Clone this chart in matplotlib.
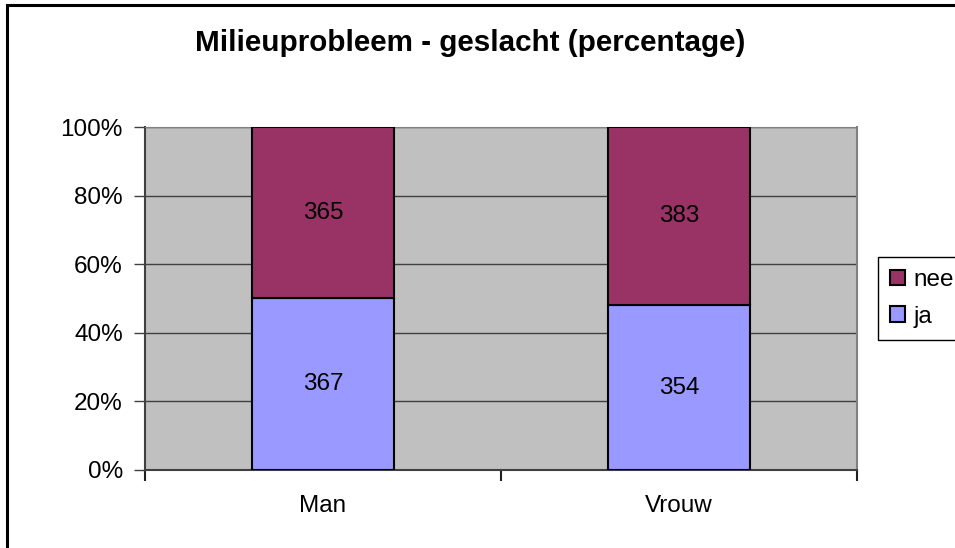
import numpy as np
import matplotlib
matplotlib.use("Agg")
import matplotlib.pyplot as plt
from matplotlib.patches import Rectangle, Patch
from matplotlib.ticker import PercentFormatter

categories = ["Man", "Vrouw"]
ja_counts = [367, 354]
nee_counts = [365, 383]

plt.rcParams['font.family'] = ['Liberation Sans', 'DejaVu Sans']

W, H = 955, 548
fig = plt.figure(figsize=(W / 100, H / 100), dpi=100)

# outer chart border (Excel style), runs off the right and bottom edge
fig.patches.append(Rectangle((7 / W, -0.05), 1.1, 1 - 5 / H + 0.05, transform=fig.transFigure,
                             fill=False, edgecolor='black', linewidth=2.2, zorder=0))

ax = fig.add_axes([145 / W, 1 - 470 / H, (857 - 145) / W, (470 - 127) / H])
ax.set_facecolor('#C0C0C0')

ja = np.array(ja_counts, dtype=float)
nee = np.array(nee_counts, dtype=float)
tot = ja + nee
ja_pct = ja / tot * 100
nee_pct = nee / tot * 100
x = np.arange(len(categories))

fs = 17.5
b1 = ax.bar(x, ja_pct, 0.4, color='#9999FF', edgecolor='black', linewidth=1.5, label='ja', zorder=3)
b2 = ax.bar(x, nee_pct, 0.4, bottom=ja_pct, color='#993366', edgecolor='black', linewidth=1.5,
            label='nee', zorder=3)
ax.bar_label(b1, labels=[str(v) for v in ja_counts], label_type='center', fontsize=fs)
ax.bar_label(b2, labels=[str(v) for v in nee_counts], label_type='center', fontsize=fs)

ax.set_xlim(-0.5, len(categories) - 0.5)
ax.set_ylim(0, 100)
ax.set_yticks(np.arange(0, 101, 20))
ax.yaxis.set_major_formatter(PercentFormatter(decimals=0))
ax.tick_params(axis='y', direction='out', length=8, width=1, color='#404040', pad=8, labelsize=fs)
ax.yaxis.grid(True, color='#404040', linewidth=1, zorder=1)

ax.set_xticks(x)
ax.set_xticklabels(categories)
ax.tick_params(axis='x', which='major', length=0, pad=18, labelsize=fs)
ax.set_xticks(np.arange(-0.5, len(categories)), minor=True)
ax.tick_params(axis='x', which='minor', direction='out', length=8, width=1.5, color='#202020')

for s in ['left', 'bottom']:
    ax.spines[s].set_color('#404040')
    ax.spines[s].set_linewidth(1.5)
ax.spines['top'].set_color('#808080')
ax.spines['right'].set_color('#808080')
ax.spines['right'].set_linewidth(1.5)

fig.text(470 / W, 1 - 43 / H, "Milieuprobleem - geslacht (percentage)", ha='center', va='center',
         fontsize=21.3, fontweight='bold')

handles = [Patch(facecolor='#993366', edgecolor='black', linewidth=1.5, label='nee'),
           Patch(facecolor='#9999FF', edgecolor='black', linewidth=1.5, label='ja')]
leg = fig.legend(handles=handles, loc='upper left', bbox_to_anchor=(878 / W, 1 - 257 / H),
                 bbox_transform=fig.transFigure, borderaxespad=0, fontsize=fs, fancybox=False,
                 edgecolor='black', framealpha=1, handlelength=0.6, handleheight=0.6,
                 handletextpad=0.35, borderpad=0.5, labelspacing=0.6)
leg.get_frame().set_linewidth(1)

fig.savefig('out.png', dpi=100)
